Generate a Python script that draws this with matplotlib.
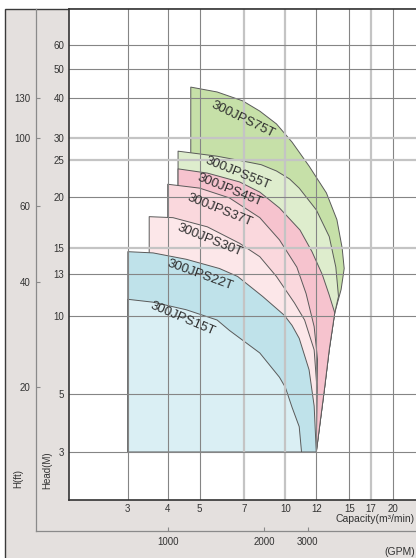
import numpy as np
import matplotlib.pyplot as plt
from matplotlib.patches import Polygon, Rectangle

plt.rcParams['font.family'] = ['Liberation Sans', 'DejaVu Sans']

W, H = 416, 558

# printed grid of the chart (non-uniform): value -> distance in px
x_grid = [3, 4, 5, 7, 10, 12, 15, 17, 20]
x_grid_px = [128, 168, 200, 245, 286, 317, 350, 372, 394]
y_grid = [3, 5, 10, 13, 15, 20, 25, 30, 40, 50, 60]
y_grid_px = [106, 164, 242, 284, 310, 361, 398, 420, 460, 489, 513]
x_light = [7, 10, 17]
y_light = [15, 25, 30]

# secondary scales
ft_labels = [130, 100, 60, 40, 20]
ft_at_m = [40, 30, 19, 12.4, 5.3]
gpm_labels = [1000, 2000, 3000]
gpm_at_m3 = [4.0, 8.33, 11.4]

H_MIN = 3.0

models = ['300JPS75T', '300JPS55T', '300JPS45T', '300JPS37T',
          '300JPS30T', '300JPS22T', '300JPS15T']

q_75 = [4.7, 5.7, 6.9, 8.0, 9.25, 10.4, 11.5, 12.85, 13.8, 14.3, 14.5]
h_75 = [43.5, 41.9, 39.2, 36.4, 33.2, 29.0, 24.1, 20.5, 17.6, 15.0, 13.4]
q_55 = [4.3, 5.7, 6.9, 8.1, 9.25, 10.25, 10.85, 12.0, 13.1, 13.7, 13.95]
h_55 = [26.9, 25.8, 24.85, 24.3, 23.4, 22.3, 21.1, 18.6, 16.0, 13.5, 11.3]
q_45 = [4.3, 5.3, 6.75, 8.0, 9.5, 10.9, 11.7, 12.5, 13.1, 13.6]
h_45 = [23.7, 23.1, 21.9, 20.6, 18.8, 16.6, 14.7, 12.95, 11.4, 10.2]
q_37 = [4.0, 5.0, 6.25, 8.0, 9.5, 10.7, 11.3, 11.85, 12.1, 12.05, 12.0]
h_37 = [21.6, 21.1, 19.9, 17.8, 15.7, 13.5, 11.5, 9.1, 6.8, 4.7, 3.0]
q_30 = [3.5, 4.15, 5.3, 6.75, 8.0, 9.25, 10.55, 11.2, 11.85, 12.05, 12.0]
h_30 = [17.9, 17.8, 16.9, 15.4, 14.3, 12.8, 10.85, 9.65, 7.4, 5.3, 3.0]
q_22 = [3.0, 3.6, 4.55, 5.8, 6.65, 8.2, 9.9, 10.4, 10.85, 11.5, 11.85, 12.0]
h_22 = [14.7, 14.6, 14.1, 13.4, 12.8, 11.3, 10.05, 9.2, 8.2, 6.2, 4.5, 3.0]
q_15 = [3.0, 3.6, 4.55, 5.7, 6.25, 8.0, 9.5, 10.0, 10.4, 10.85, 11.0]
h_15 = [11.1, 10.9, 10.4, 9.65, 8.8, 7.2, 5.8, 5.3, 4.45, 3.75, 3.0]

# max-capacity limit shared by the larger models
q_max = [14.5, 14.2, 13.6, 13.1, 12.7, 12.0]
h_max = [13.4, 11.8, 10.2, 7.4, 5.3, 3.0]

curves = [(q_75, h_75), (q_55, h_55), (q_45, h_45), (q_37, h_37),
          (q_30, h_30), (q_22, h_22), (q_15, h_15)]
colors = ['#c6e0a8', '#deedcd', '#f6c3ce', '#fad8dd', '#fce7e9',
          '#bfe2ea', '#daeff4']

label_q = [6.9, 6.65, 6.25, 5.8, 5.4, 5.0, 4.45]
label_h = [34.2, 23.1, 20.9, 18.6, 15.7, 12.95, 9.75]
label_rot = [-26, -22, -22, -22, -22, -20, -23]


def log_grid_scale(vals, px):
    lv = np.log10(vals)
    px = np.asarray(px, float)
    s0 = (px[1] - px[0]) / (lv[1] - lv[0])
    s1 = (px[-1] - px[-2]) / (lv[-1] - lv[-2])

    def fwd(v):
        l = np.log10(np.clip(np.asarray(v, float), 1e-6, None))
        out = np.interp(l, lv, px)
        out = np.where(l < lv[0], px[0] + (l - lv[0]) * s0, out)
        return np.where(l > lv[-1], px[-1] + (l - lv[-1]) * s1, out)

    def inv(p):
        p = np.asarray(p, float)
        l = np.interp(p, px, lv)
        l = np.where(p < px[0], lv[0] + (p - px[0]) / s0, l)
        l = np.where(p > px[-1], lv[-1] + (p - px[-1]) / s1, l)
        return 10 ** l

    return fwd, inv


fx, ix = log_grid_scale(x_grid, x_grid_px)
fy, iy = log_grid_scale(y_grid, y_grid_px)

fig = plt.figure(figsize=(W / 100, H / 100), dpi=100)
fig.patch.set_facecolor('white')
fig.add_artist(Rectangle((4.5 / W, -0.02), 1.0, 1.02 - 8.5 / H,
                         transform=fig.transFigure, facecolor='#e4e0de',
                         edgecolor='#3a3a3a', lw=1.0, zorder=0))

# outer axes: feet / GPM
ax_ft = fig.add_axes([36 / W, (H - 531) / H, (W - 36) / W, (531 - 8.5) / H])
# main axes: head (m) / capacity (m3/min)
ax = fig.add_axes([68.5 / W, (H - 500) / H, (W - 68.5) / W, (500 - 8.5) / H])

for a in (ax, ax_ft):
    a.set_xscale('function', functions=(fx, ix))
    a.set_yscale('function', functions=(fy, iy))
    a.minorticks_off()

ax.set_xlim(float(ix(68.5)), float(ix(W + 1)))
ax.set_ylim(float(iy(H - 500)), float(iy(H - 8.5)))
ax_ft.set_xlim(float(ix(36)), float(ix(W + 1)))
ax_ft.set_ylim(float(iy(H - 531)), float(iy(H - 8.5)))

ax_ft.patch.set_visible(False)
for s in ('top', 'right'):
    ax_ft.spines[s].set_visible(False)
for s in ('left', 'bottom'):
    ax_ft.spines[s].set_color('#8a8a8a')
    ax_ft.spines[s].set_linewidth(0.9)
ax_ft.set_yticks(ft_at_m, [str(v) for v in ft_labels])
ax_ft.set_xticks(gpm_at_m3, [str(v) for v in gpm_labels])
ax_ft.tick_params(direction='in', length=3, width=0.8, color='#8a8a8a',
                  labelsize=7, labelcolor='#333333', pad=4)

ax.set_facecolor('white')
ax.spines['right'].set_visible(False)
for s in ('left', 'bottom', 'top'):
    ax.spines[s].set_color('#333333')
    ax.spines[s].set_linewidth(1.2)
ax.set_xticks(x_grid, [str(v) for v in x_grid])
ax.set_yticks(y_grid, [str(v) for v in y_grid])
ax.tick_params(length=0, labelsize=7, labelcolor='#333333', pad=3)

for v in x_grid:
    light = v in x_light
    ax.axvline(v, color='#c4c4c4' if light else '#858585',
               lw=1.6 if light else 0.8, zorder=2)
for v in y_grid:
    light = v in y_light
    ax.axhline(v, color='#c4c4c4' if light else '#858585',
               lw=1.6 if light else 0.8, zorder=2)

# operating ranges, largest model first so smaller ones sit on top
for (q, h), c in zip(curves, colors):
    tail = [(a, b) for a, b in zip(q_max, h_max) if b < h[-1]]
    pts = [(q[0], H_MIN)] + list(zip(q, h)) + tail
    if pts[-1][1] > H_MIN:
        pts.append((pts[-1][0], H_MIN))
    ax.add_patch(Polygon(pts, closed=True, facecolor=c, edgecolor='#5a5a5a',
                         lw=0.7, joinstyle='round', zorder=1))

for name, lq, lh, rot in zip(models, label_q, label_h, label_rot):
    ax.text(lq, lh, name, rotation=rot, rotation_mode='anchor',
            ha='center', va='center', fontsize=9.5, color='#2e2e2e', zorder=4)

fig.text(415 / W, (H - 519) / H, 'Capacity(m³/min)', ha='right', va='center',
         fontsize=7.5, color='#333333')
fig.text(415 / W, (H - 552) / H, '(GPM)', ha='right', va='center',
         fontsize=7.5, color='#333333')
fig.text(47 / W, (H - 470) / H, 'Head(M)', rotation=90, ha='center',
         va='center', fontsize=7, color='#333333')
fig.text(18 / W, (H - 478) / H, 'H(ft)', rotation=90, ha='center',
         va='center', fontsize=7, color='#333333')

fig.savefig('out.png', dpi=100, facecolor=fig.get_facecolor())
